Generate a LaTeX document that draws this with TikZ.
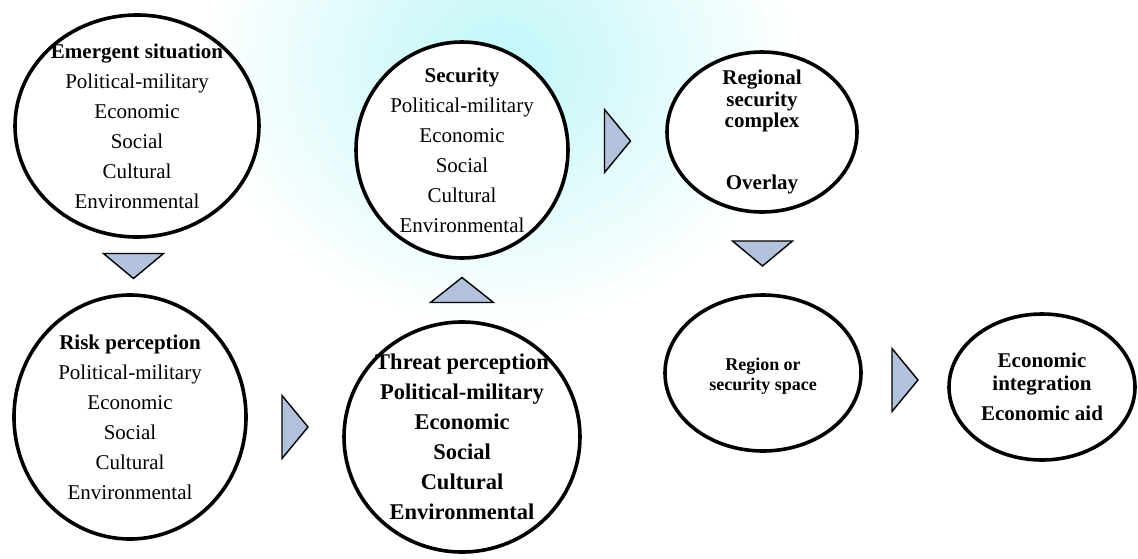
\documentclass[tikz,border=0pt]{standalone}
\usepackage{fontspec}
\setmainfont{Liberation Serif}
\usetikzlibrary{shapes.geometric,calc}
\definecolor{trifill}{RGB}{178,193,220}
\definecolor{washcyan}{RGB}{192,246,248}

\begin{document}
\begin{tikzpicture}
		[x=1pt, y=-1pt,
		bubble/.style ={ellipse, draw=black, line width=3.6pt, fill=white, inner sep=0pt},
		txt/.style ={align=center, font=\fontsize{21}{30}\selectfont},
		tri/.style ={draw=black, line width=1.4pt, fill=trifill},
		pics/tridown/.style ={code={\draw[tri] (-30,-12.5) -- (30,-12.5) -- (0,12.5) -- cycle;}},
		pics/triup/.style ={code={\draw[tri] (-31.5,12.5) -- (31.5,12.5) -- (0,-12.5) -- cycle;}},
		pics/triright/.style ={code={\draw[tri] (-13,-31.5) -- (-13,31.5) -- (13,0) -- cycle;}}]
		\useasboundingbox (0,0) rectangle (1138,558);
		% faint wash behind the top row
		\shade[inner color=washcyan, outer color=white] (200,-200) rectangle (800,330);

		\draw (137,126) node[bubble, minimum width=244pt, minimum height=222pt] (emerg) {};
		\draw (130,417) node[bubble, minimum width=232pt, minimum height=244pt] (risk) {};
		\draw (462,150) node[bubble, minimum width=212pt, minimum height=216pt] (secur) {};
		\draw (462,437) node[bubble, minimum width=236pt, minimum height=230pt] (threat) {};
		\draw (762,132) node[bubble, minimum width=190pt, minimum height=160pt] (rsc) {};
		\draw (763,373) node[bubble, minimum width=196pt, minimum height=156pt] (space) {};
		\draw (1042,387) node[bubble, minimum width=186pt, minimum height=146pt] (econ) {};

		\node[txt] (emergT) at (emerg) {\textbf{Emergent situation}\\Political-military\\Economic\\Social\\Cultural\\Environmental};
		\node[txt] (riskT) at (risk) {\textbf{Risk perception}\\Political-military\\Economic\\Social\\Cultural\\Environmental};
		\node[txt] (securT) at (secur) {\textbf{Security}\\Political-military\\Economic\\Social\\Cultural\\Environmental};
		\node[txt, font=\bfseries\fontsize{22.5}{30}\selectfont] (threatT) at (threat) {Threat perception\\Political-military\\Economic\\Social\\Cultural\\Environmental};
		\node[txt, font=\bfseries\fontsize{21}{21.5}\selectfont] (rscT) at (rsc) {Regional\\security\\complex\\[40pt]Overlay};
		\node[txt, font=\bfseries\fontsize{18}{20}\selectfont] (spaceT) at ($(space)+(0,3)$) {Region or\\security space};
		\node[txt, font=\bfseries\fontsize{21}{23}\selectfont] (econT) at (econ) {Economic\\integration\\[7pt]Economic aid};

		\pic at ($(emerg.south)!.5!(risk.north)$) {tridown};
		\pic at ($(risk.east)!.5!(threat.west)$) {triright};
		\pic at ($(threat.north)!.5!(secur.south)$) {triup};
		\pic at ($(secur.east)!.5!(rsc.west)$) {triright};
		\pic at ($(rsc.south)!.5!(space.north)$) {tridown};
		\pic at ($(space.east)!.5!(econ.west)$) {triright};

	\end{tikzpicture}
\end{document}
